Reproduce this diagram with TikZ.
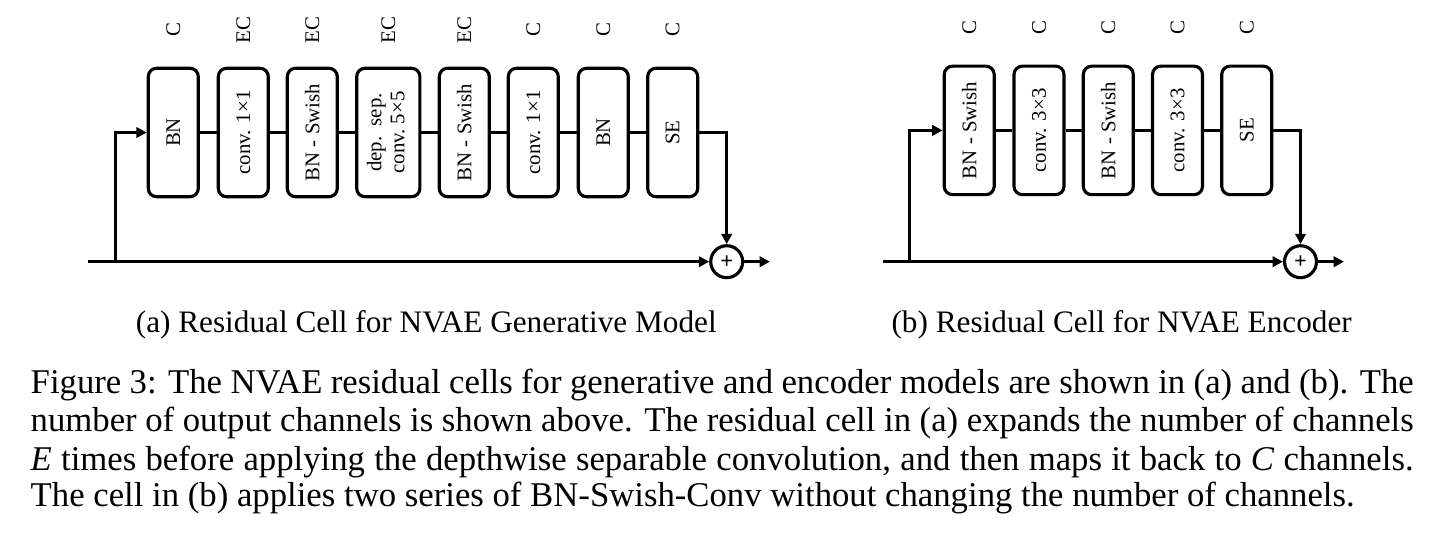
\documentclass[tikz,border=0pt]{standalone}
\usepackage{fontspec}
\setmainfont{Liberation Serif}
\usetikzlibrary{arrows.meta}
\begin{document}
\begin{tikzpicture}[x=0.288pt,y=-0.288pt,
  blk/.style={draw, line width=0.9pt, rounded corners=2.4pt, minimum width=14.4pt, minimum height=37pt, inner sep=0pt, font=\fontsize{6}{6.6}\selectfont},
  wideblk/.style={blk, minimum width=18.2pt},
  chan/.style={rotate=90, inner sep=0pt, font=\fontsize{6}{6}\selectfont},
  wire/.style={line width=0.9pt},
  arr/.style={wire, -{Triangle[length=3pt,width=3pt]}},
  sumnode/.style={draw, circle, line width=0.9pt, minimum size=9.2pt, inner sep=0pt, font=\fontsize{6.5}{6.5}\selectfont\bfseries},
  subcap/.style={anchor=base, inner sep=0pt, font=\fontsize{9}{11}\selectfont},
  capline/.style={anchor=base west, inner sep=0pt, font=\fontsize{10}{11}\selectfont}
]
\useasboundingbox (0,0) rectangle (1432,536);

% ---------------- (a) generative cell ----------------
\node[blk] (a1) at (173.3,132.5) {\rotatebox{90}{BN}};
\node[blk] (a2) at (243.3,132.5) {\rotatebox{90}{conv. 1×1}};
\node[blk] (a3) at (312.3,132.5) {\rotatebox{90}{BN - Swish}};
\node[wideblk] (a4) at (388.3,132.5) {\rotatebox{90}{\begin{tabular}{@{}c@{}}dep.\ \ sep.\\conv.\ 5×5\end{tabular}}};
\node[blk] (a5) at (464.3,132.5) {\rotatebox{90}{BN - Swish}};
\node[blk] (a6) at (533.3,132.5) {\rotatebox{90}{conv. 1×1}};
\node[blk] (a7) at (603.3,132.5) {\rotatebox{90}{BN}};
\node[blk] (a8) at (672.7,132.5) {\rotatebox{90}{SE}};

\node[chan] (ca1) at (173.3,30) {C};
\node[chan] (ca2) at (243.3,30) {EC};
\node[chan] (ca3) at (312.3,30) {EC};
\node[chan] (ca4) at (388.3,30) {EC};
\node[chan] (ca5) at (464.3,30) {EC};
\node[chan] (ca6) at (533.3,30) {C};
\node[chan] (ca7) at (603.3,30) {C};
\node[chan] (ca8) at (672.7,30) {C};

\node[sumnode] (sa) at (726.7,261.7) {+};
\coordinate (ina) at (88,261.7);
\coordinate (bra) at (115.5,261.7);
\coordinate (outa) at (770,261.7);

\draw[wire] (a1) -- (a2);
\draw[wire] (a2) -- (a3);
\draw[wire] (a3) -- (a4);
\draw[wire] (a4) -- (a5);
\draw[wire] (a5) -- (a6);
\draw[wire] (a6) -- (a7);
\draw[wire] (a7) -- (a8);
\draw[arr] (ina) -- (sa);
\draw[arr] (bra) |- (a1);
\draw[arr] (a8) -| (sa);
\draw[arr] (sa) -- (outa);

% ---------------- (b) encoder cell ----------------
\node[blk] (b1) at (969.2,130.4) {\rotatebox{90}{BN - Swish}};
\node[blk] (b2) at (1039,130.4) {\rotatebox{90}{conv. 3×3}};
\node[blk] (b3) at (1108.3,130.4) {\rotatebox{90}{BN - Swish}};
\node[blk] (b4) at (1177.5,130.4) {\rotatebox{90}{conv. 3×3}};
\node[blk] (b5) at (1246.7,130.4) {\rotatebox{90}{SE}};

\node[chan] (cb1) at (969.2,28) {C};
\node[chan] (cb2) at (1039,28) {C};
\node[chan] (cb3) at (1108.3,28) {C};
\node[chan] (cb4) at (1177.5,28) {C};
\node[chan] (cb5) at (1246.7,28) {C};

\node[sumnode] (sb) at (1300.5,261.7) {+};
\coordinate (inb) at (883,261.7);
\coordinate (brb) at (909.5,261.7);
\coordinate (outb) at (1344,261.7);

\draw[wire] (b1) -- (b2);
\draw[wire] (b2) -- (b3);
\draw[wire] (b3) -- (b4);
\draw[wire] (b4) -- (b5);
\draw[arr] (inb) -- (sb);
\draw[arr] (brb) |- (b1);
\draw[arr] (b5) -| (sb);
\draw[arr] (sb) -- (outb);

% ---------------- captions ----------------
\node[subcap] (sca) at (426.3,332.3) {(a) Residual Cell for NVAE Generative Model};
\node[subcap] (scb) at (1121.7,332.3) {(b) Residual Cell for NVAE Encoder};

\node[capline] (l1) at (30,393.3) {\makebox[398.3pt][s]{Figure 3: The NVAE residual cells for generative and encoder models are shown in (a) and (b). The}};
\node[capline] (l2) at (30,431.7) {\makebox[398.3pt][s]{number of output channels is shown above. The residual cell in (a) expands the number of channels}};
\node[capline] (l3) at (30,470) {\makebox[398.3pt][s]{\textit{E} times before applying the depthwise separable convolution, and then maps it back to \textit{C} channels.}};
\node[capline] (l4) at (30,506.7) {The cell in (b) applies two series of BN-Swish-Conv without changing the number of channels.};
\end{tikzpicture}
\end{document}
